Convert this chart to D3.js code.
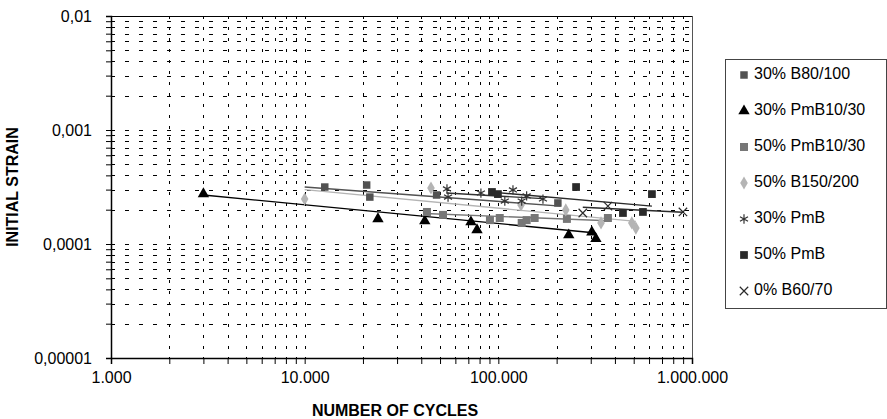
<!DOCTYPE html>
<html>
<head>
<meta charset="utf-8">
<script src="https://cdn.jsdelivr.net/npm/d3@7"></script>
<style>
  body { margin: 0; background: #fff; }
  text { font-family: "Liberation Sans", Arial, sans-serif; fill: #000; }
</style>
</head>
<body>
<svg id="chart" width="887" height="419"></svg>
<script>
// series names, in legend order
const seriesNames = ["30% B80/100", "30% PmB10/30", "50% PmB10/30", "50% B150/200", "30% PmB", "50% PmB", "0% B60/70"];

// number of cycles / initial strain per series
const b80Cycles   = [12700, 20900, 21700, 48000, 203000];
const b80Strain   = [0.000316, 0.000329, 0.000258, 0.000269, 0.000229];
const pmb30Cycles = [3000, 23900, 41700, 72200, 77600, 231000, 304000, 319000];
const pmb30Strain = [0.000275, 0.000166, 0.000159, 0.000156, 0.000133, 0.000120, 0.000127, 0.000111];
const pmb50Cycles = [42800, 51800, 90500, 101700, 132000, 140000, 154000, 226000, 368000];
const pmb50Strain = [0.000191, 0.000180, 0.000162, 0.000169, 0.000153, 0.000162, 0.000169, 0.000166, 0.000169];
const b150Cycles  = [10000, 44900, 131000, 223000, 339000, 489000, 513000];
const b150Strain  = [0.000248, 0.000310, 0.000220, 0.000199, 0.000153, 0.000153, 0.000138];
const pmbCycles30 = [54300, 55000, 81300, 108000, 119000, 132000, 140000, 170000];
const pmbStrain30 = [0.000304, 0.000258, 0.000280, 0.000238, 0.000298, 0.000238, 0.000264, 0.000248];
const pmbCycles50 = [92700, 99500, 252000, 440000, 558000, 621000];
const pmbStrain50 = [0.000286, 0.000274, 0.000316, 0.000187, 0.000191, 0.000274];
const b60Cycles   = [273000, 368000, 898000];
const b60Strain   = [0.000187, 0.000215, 0.000191];

// trendline ends (start / end)
const trendCycles = [[10000, 210000], [3000, 319000], [41700, 368000], [10000, 513000], [54000, 170000], [92700, 621000], [273000, 898000]];
const trendStrain = [[0.000316, 0.000215], [0.000269, 0.000125], [0.000185, 0.000160], [0.000300, 0.000158], [0.000280, 0.000250], [0.000285, 0.000215], [0.000210, 0.000190]];

const xDomain = [1000, 1000000];
const yDomain = [0.00001, 0.01];

const allCycles = [b80Cycles, pmb30Cycles, pmb50Cycles, b150Cycles, pmbCycles30, pmbCycles50, b60Cycles];
const allStrain = [b80Strain, pmb30Strain, pmb50Strain, b150Strain, pmbStrain30, pmbStrain50, b60Strain];

// look of each series
const colors = ["#525252", "#000000", "#777777", "#b4b4b4", "#333333", "#2a2a2a", "#2a2a2a"];
const symbols = [d3.symbolSquare, d3.symbolTriangle, d3.symbolSquare, d3.symbolDiamond,
                 d3.symbolAsterisk || d3.symbolCross, d3.symbolSquare, d3.symbolTimes || d3.symbolCross];
const symSize = [56, 56, 64, 50, 60, 60, 48];
const stroked = [false, false, false, false, true, false, true];

const svg = d3.select("#chart");
const pLeft = 111, pRight = 692, pTop = 16, pBottom = 358;

const x = d3.scaleLog().domain(xDomain).range([pLeft, pRight]);
const y = d3.scaleLog().domain(yDomain).range([pBottom, pTop]);

const loc = d3.formatLocale({decimal: ",", thousands: ".", grouping: [3], currency: ["", ""]});
const xFmt = loc.format(",d");
const yFmt = loc.format("~f");
const isMajor = d => Math.abs(Math.log10(d) - Math.round(Math.log10(d))) < 1e-9;

// grid
const grid = svg.append("g").attr("shape-rendering", "crispEdges");
grid.selectAll("line.v")
    .data(x.ticks())
    .enter().append("line")
    .attr("x1", d => Math.round(x(d)) + 0.5).attr("x2", d => Math.round(x(d)) + 0.5)
    .attr("y1", pTop).attr("y2", pBottom)
    .attr("stroke", "#000").attr("stroke-width", 1)
    .attr("stroke-dasharray", "3,8");
grid.selectAll("line.h")
    .data(y.ticks())
    .enter().append("line")
    .attr("y1", d => Math.round(y(d)) + 0.5).attr("y2", d => Math.round(y(d)) + 0.5)
    .attr("x1", pLeft).attr("x2", pRight)
    .attr("stroke", "#000").attr("stroke-width", 1)
    .attr("stroke-dasharray", "4,10");

// plot frame (top and right)
svg.append("line").attr("x1", pLeft).attr("x2", pRight + 0.5).attr("y1", pTop + 0.5).attr("y2", pTop + 0.5)
    .attr("stroke", "#000").attr("shape-rendering", "crispEdges");
svg.append("line").attr("x1", pRight + 0.5).attr("x2", pRight + 0.5).attr("y1", pTop).attr("y2", pBottom)
    .attr("stroke", "#555").attr("shape-rendering", "crispEdges");

// trendlines
const line = d3.line().x(d => x(d[0])).y(d => y(d[1]));
seriesNames.forEach((name, i) => {
    svg.append("path")
        .datum(d3.zip(trendCycles[i], trendStrain[i]))
        .attr("d", line)
        .attr("fill", "none")
        .attr("stroke", colors[i])
        .attr("stroke-width", 1.4);
});

// points
seriesNames.forEach((name, i) => {
    svg.append("g").selectAll("path")
        .data(d3.zip(allCycles[i], allStrain[i]))
        .enter().append("path")
        .attr("transform", d => `translate(${x(d[0])},${y(d[1])})`)
        .attr("d", d3.symbol(symbols[i], symSize[i]))
        .attr("fill", stroked[i] ? "none" : colors[i])
        .attr("stroke", stroked[i] ? colors[i] : "none")
        .attr("stroke-width", 1.2);
});

// axes
const xAxis = svg.append("g")
    .attr("transform", `translate(0,${pBottom})`)
    .call(d3.axisBottom(x).tickValues(x.ticks()).tickSize(6).tickPadding(8)
        .tickFormat(d => isMajor(d) ? xFmt(d) : ""));
const yAxis = svg.append("g")
    .attr("transform", `translate(${pLeft},0)`)
    .call(d3.axisLeft(y).tickValues(y.ticks()).tickSize(5).tickPadding(14)
        .tickFormat(d => isMajor(d) ? yFmt(d) : ""));
[xAxis, yAxis].forEach(a => {
    a.select(".domain").attr("stroke", "#000").attr("stroke-width", 1.5);
    a.selectAll(".tick line").attr("stroke", "#000");
    a.selectAll("text").attr("font-size", 16).attr("font-family", "Liberation Sans, Arial, sans-serif");
});

// axis titles
svg.append("text")
    .attr("x", 395).attr("y", 416)
    .attr("text-anchor", "middle")
    .attr("font-weight", "bold").attr("font-size", 16)
    .text("NUMBER OF CYCLES");
svg.append("text")
    .attr("transform", `translate(18,${(pTop + pBottom) / 2}) rotate(-90)`)
    .attr("text-anchor", "middle")
    .attr("font-weight", "bold").attr("font-size", 16)
    .text("INITIAL STRAIN");

// legend
const legend = svg.append("g");
legend.append("rect")
    .attr("x", 725.5).attr("y", 59.5).attr("width", 161).attr("height", 249)
    .attr("fill", "#fff").attr("stroke", "#444");
seriesNames.forEach((name, i) => {
    const by = 79 + i * 36;
    legend.append("path")
        .attr("transform", `translate(744,${by - 4})`)
        .attr("d", d3.symbol(symbols[i], symSize[i]))
        .attr("fill", stroked[i] ? "none" : colors[i])
        .attr("stroke", stroked[i] ? colors[i] : "none")
        .attr("stroke-width", 1.2);
    legend.append("text")
        .attr("x", 754).attr("y", by)
        .attr("font-size", 16)
        .text(name);
});
</script>
</body>
</html>
